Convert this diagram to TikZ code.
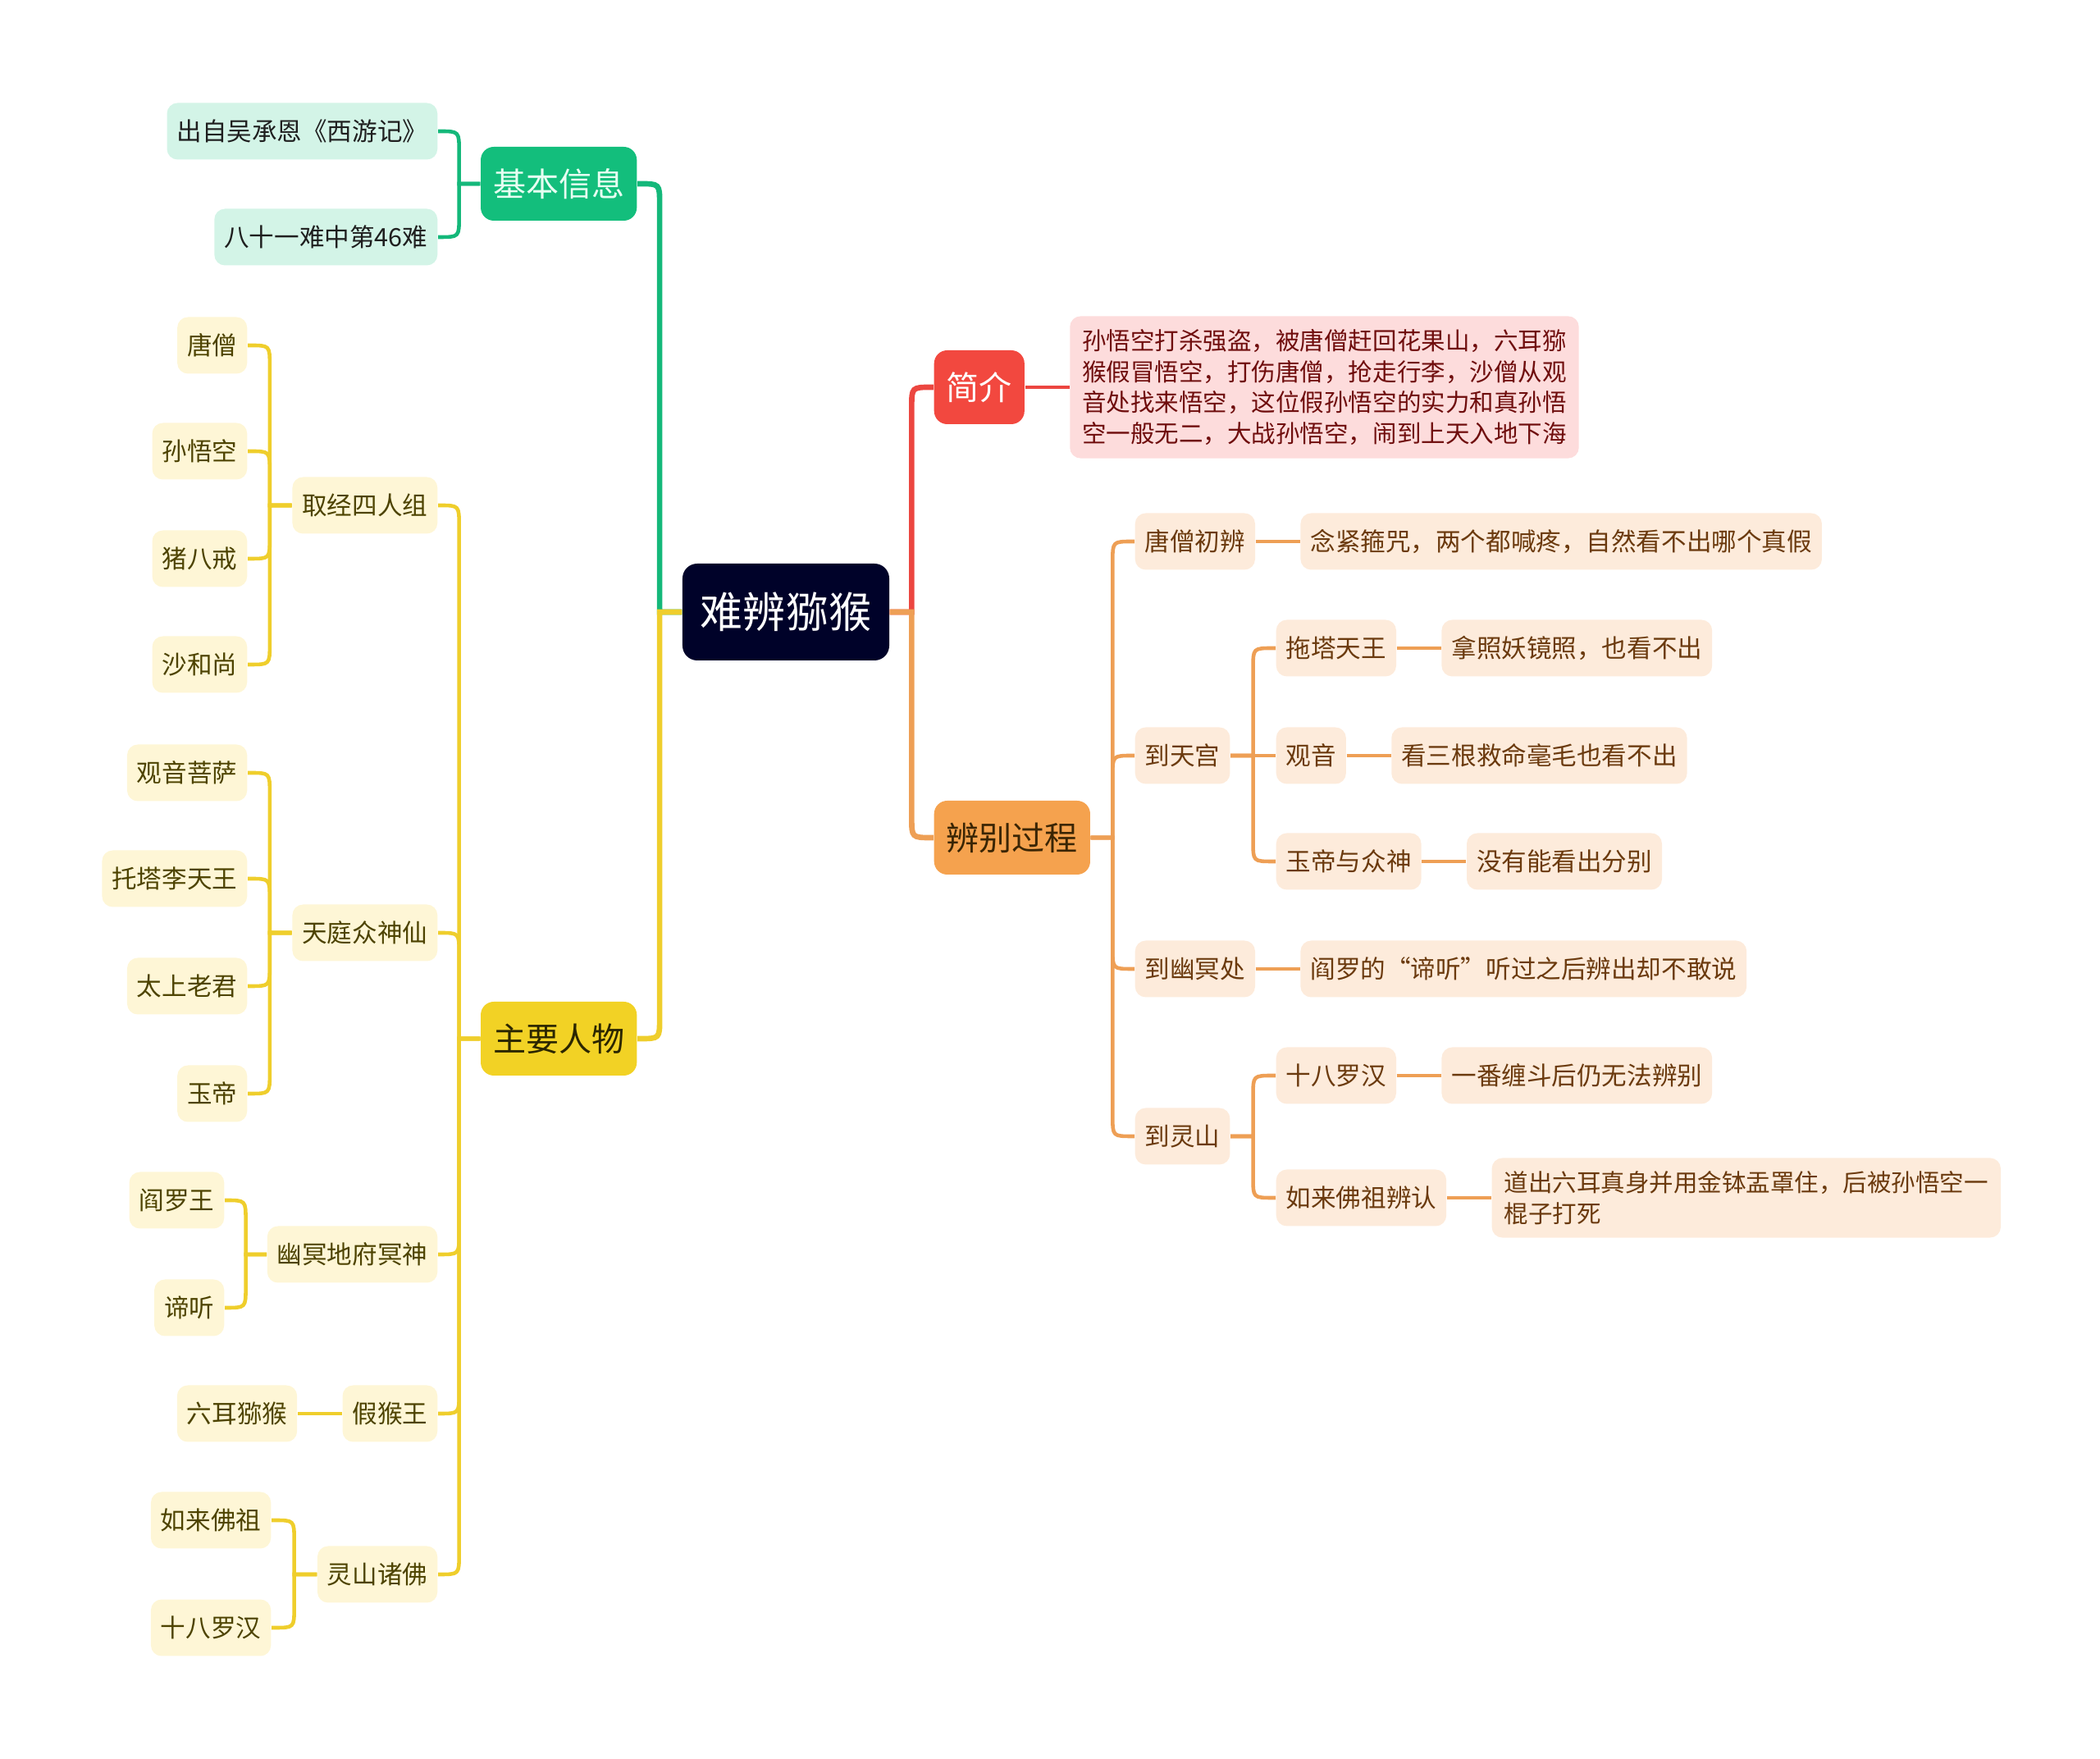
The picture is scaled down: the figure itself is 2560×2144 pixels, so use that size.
\documentclass[tikz,border=0pt]{standalone}
\usepackage{fontspec}
\setmainfont{Noto Sans CJK SC}
\usetikzlibrary{calc}
\usepackage{xcolor}

\definecolor{rootc}{HTML}{000229}
\definecolor{grn}{HTML}{13BE7C}
\definecolor{grnlt}{HTML}{D3F4E7}
\definecolor{grnline}{HTML}{14B87A}
\definecolor{grntop}{HTML}{E6FFF2}
\definecolor{redc}{HTML}{F2483F}
\definecolor{pinklt}{HTML}{FDDCDC}
\definecolor{redtxt}{HTML}{6F0D0D}
\definecolor{redline}{HTML}{EC4640}
\definecolor{org}{HTML}{F5A24E}
\definecolor{orglt}{HTML}{FDEBDB}
\definecolor{orgtxt}{HTML}{6B3A0E}
\definecolor{orgtop}{HTML}{3A2504}
\definecolor{orgline}{HTML}{EE9F55}
\definecolor{yel}{HTML}{F2D225}
\definecolor{yellt}{HTML}{FEF6D6}
\definecolor{yeltxt}{HTML}{4D4300}
\definecolor{yeltop}{HTML}{2B2600}
\definecolor{yelline}{HTML}{EFCE2C}

\begin{document}
\begin{tikzpicture}[%
    x=0.1mm, y=-0.1mm,
    every edge/.style = {draw, line width=1.3pt},
    main/.style = {line width=1.9pt},
    fork/.style = {to path={let \p1=(\tikztostart), \p2=(\tikztotarget),
        \n1={(\x1+\x2)/2}, \n2={sign(\y2-\y1)*7pt}, \n3={sign(\x2-\x1)*7pt} in
        -- (\n1,\y1) -- (\n1,\y2-\n2)
        .. controls (\n1,\y2) .. (\n1+\n3,\y2) -- (\p2)}},
    box/.style = {rounded corners=1.3mm, inner xsep=1.2mm, inner ysep=0pt,
        minimum height=6.9mm, font=\fontsize{8.7}{10.7}\selectfont},
    top/.style = {rounded corners=1.6mm, inner xsep=1.5mm, inner ysep=0pt,
        minimum height=9mm, font=\fontsize{11.4}{13}\selectfont},
    para/.style = {box, align=left, inner xsep=1.5mm, inner ysep=1.6mm,
        font=\fontsize{8.4}{10.7}\selectfont},
    gbox/.style = {box, fill=grnlt, text=black!88},
    ybox/.style = {box, fill=yellt, text=yeltxt},
    obox/.style = {box, fill=orglt, text=orgtxt}
]
\useasboundingbox (0,0) rectangle (2560,2144);

\node (root) [rounded corners=1.8mm, fill=rootc, text=white, inner xsep=2.2mm,
    minimum height=11.8mm, font=\fontsize{14.8}{16}\selectfont] at (958,746) {难辨猕猴};

% left side
\node (jb) [top, fill=grn, text=grntop, anchor=east] at (777,224) {基本信息};
\node (zy) [top, fill=yel, text=yeltop, anchor=east] at (777,1266) {主要人物};

\node (jb1) [gbox, anchor=east] at (534,160) {出自吴承恩《西游记》};
\node (jb2) [gbox, anchor=east] at (534,289) {八十一难中第46难};

\node (qj) [ybox, anchor=east] at (534,616) {取经四人组};
\node (tt) [ybox, anchor=east] at (534,1137) {天庭众神仙};
\node (ym) [ybox, anchor=east] at (534,1529) {幽冥地府冥神};
\node (jh) [ybox, anchor=east] at (534,1723) {假猴王};
\node (ls) [ybox, anchor=east] at (534,1919) {灵山诸佛};

\foreach \t/\y [count=\i] in {唐僧/421, 孙悟空/550, 猪八戒/681, 沙和尚/810} {
    \node (qj\i) [ybox, anchor=east] at (302,\y) {\t};
    \path (qj.west) edge [fork, yelline] (qj\i.east);
}
\foreach \t/\y [count=\i] in {观音菩萨/942, 托塔李天王/1071, 太上老君/1202, 玉帝/1333} {
    \node (tt\i) [ybox, anchor=east] at (302,\y) {\t};
    \path (tt.west) edge [fork, yelline] (tt\i.east);
}
\foreach \t/\y [count=\i] in {阎罗王/1463, 谛听/1594} {
    \node (ym\i) [ybox, anchor=east] at (274,\y) {\t};
    \path (ym.west) edge [fork, yelline] (ym\i.east);
}
\node (jh1) [ybox, anchor=east] at ([xshift=-5.4mm]jh.west) {六耳猕猴};
\foreach \t/\y [count=\i] in {如来佛祖/1853, 十八罗汉/1984} {
    \node (ls\i) [ybox, anchor=east] at (331,\y) {\t};
    \path (ls.west) edge [fork, yelline] (ls\i.east);
}

% right side
\node (jj) [top, fill=redc, text=white, anchor=west] at (1138,472) {简介};
\node (bb) [top, fill=org, text=orgtop, anchor=west] at (1138,1021) {辨别过程};

\node (jj1) [para, fill=pinklt, text=redtxt, anchor=west] at ([xshift=5.4mm]jj.east)
    {孙悟空打杀强盗，被唐僧赶回花果山，六耳猕\\猴假冒悟空，打伤唐僧，抢走行李，沙僧从观\\音处找来悟空，这位假孙悟空的实力和真孙悟\\空一般无二，大战孙悟空，闹到上天入地下海};

\node (b1) [obox, anchor=west] at (1383,660) {唐僧初辨};
\node (b2) [obox, anchor=west] at (1383,921) {到天宫};
\node (b3) [obox, anchor=west] at (1383,1181) {到幽冥处};
\node (b4) [obox, anchor=west] at (1383,1385) {到灵山};

\node (b1l) [obox, anchor=west] at ([xshift=5.4mm]b1.east) {念紧箍咒，两个都喊疼，自然看不出哪个真假};
\node (b3l) [obox, anchor=west] at ([xshift=5.4mm]b3.east) {阎罗的“谛听”听过之后辨出却不敢说};

\node (b21) [obox, anchor=west] at (1555,790) {拖塔天王};
\node (b22) [obox, anchor=west] at (1555,921) {观音};
\node (b23) [obox, anchor=west] at (1555,1050) {玉帝与众神};
\node (b21l) [obox, anchor=west] at ([xshift=5.4mm]b21.east) {拿照妖镜照，也看不出};
\node (b22l) [obox, anchor=west] at ([xshift=5.4mm]b22.east) {看三根救命毫毛也看不出};
\node (b23l) [obox, anchor=west] at ([xshift=5.4mm]b23.east) {没有能看出分别};

\node (b41) [obox, anchor=west] at (1555,1311) {十八罗汉};
\node (b42) [obox, anchor=west] at (1555,1460) {如来佛祖辨认};
\node (b41l) [obox, anchor=west] at ([xshift=5.4mm]b41.east) {一番缠斗后仍无法辨别};
\node (b42l) [para, fill=orglt, text=orgtxt, anchor=west] at ([xshift=5.4mm]b42.east)
    {道出六耳真身并用金钵盂罩住，后被孙悟空一\\棍子打死};

\path
    (root.west) edge [fork, main, grnline] (jb.east)
        edge [fork, main, yelline] (zy.east)
    (root.east) edge [fork, main, redline] (jj.west)
        edge [fork, main, orgline] (bb.west)
    (jb.west) edge [fork, grnline] (jb1.east)
        edge [fork, grnline] (jb2.east)
    (zy.west) edge [fork, yelline] (qj.east)
        edge [fork, yelline] (tt.east)
        edge [fork, yelline] (ym.east)
        edge [fork, yelline] (jh.east)
        edge [fork, yelline] (ls.east)
    (jh.west) edge [yelline] (jh1.east)
    (jj.east) edge [redline] (jj1.west)
    (bb.east) edge [fork, orgline] (b1.west)
        edge [fork, orgline] (b2.west)
        edge [fork, orgline] (b3.west)
        edge [fork, orgline] (b4.west)
    (b1.east) edge [orgline] (b1l.west)
    (b3.east) edge [orgline] (b3l.west)
    (b2.east) edge [fork, orgline] (b21.west)
        edge [orgline] (b22.west)
        edge [fork, orgline] (b23.west)
    (b21.east) edge [orgline] (b21l.west)
    (b22.east) edge [orgline] (b22l.west)
    (b23.east) edge [orgline] (b23l.west)
    (b4.east) edge [fork, orgline] (b41.west)
        edge [fork, orgline] (b42.west)
    (b41.east) edge [orgline] (b41l.west)
    (b42.east) edge [orgline] (b42l.west)
    ;
\end{tikzpicture}
\end{document}
